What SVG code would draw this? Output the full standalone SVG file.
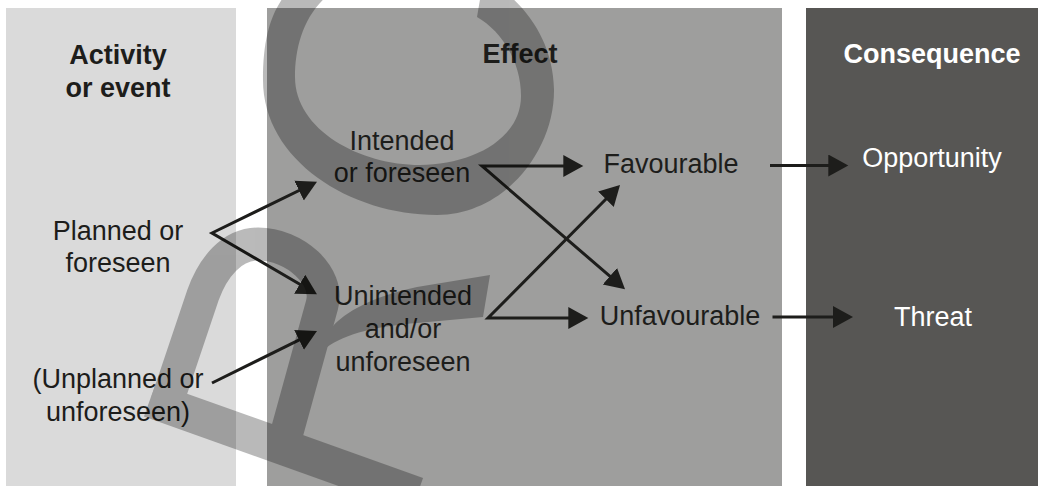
<svg xmlns="http://www.w3.org/2000/svg" width="1038" height="486" viewBox="0 0 1038 486">
  <style>
    .t { font-family: "Liberation Sans", Arial, Helvetica, sans-serif; font-size: 27px; fill: #1d1d1b; text-anchor: middle; }
    .b { font-weight: bold; }
    .w { fill: #ffffff; }
    .c { fill: none; stroke: #1d1d1b; stroke-width: 3; stroke-linejoin: miter; marker-end: url(#ah); }
    .cs { marker-start: url(#ah); }
    .wm { fill: #000; }
    .wms { fill: none; stroke: #000; stroke-linejoin: round; }
  </style>
  <defs>
    <marker id="ah" markerUnits="userSpaceOnUse" markerWidth="22" markerHeight="24" refX="16" refY="11" orient="auto-start-reverse" viewBox="0 0 22 24">
      <path d="M0,0 L20,11 L0,22 Z" fill="#1d1d1b"/>
    </marker>
  </defs>

  <g id="columns">
    <rect x="6" y="8" width="230" height="478" fill="#dadada"/>
    <rect x="267" y="8" width="515" height="478" fill="#9e9e9d"/>
    <rect x="806" y="8" width="232" height="478" fill="#575654"/>
  </g>

  <g id="head-activity"><text class="t b" x="118" y="64">Activity</text><text class="t b" x="118" y="97">or event</text></g>
  <g id="head-effect"><text class="t b" x="520" y="63">Effect</text></g>
  <g id="head-consequence"><text class="t b w" x="932" y="63">Consequence</text></g>

  <g id="planned"><text class="t" x="118" y="240">Planned or</text><text class="t" x="118" y="272">foreseen</text></g>
  <g id="unplanned"><text class="t" x="118" y="388">(Unplanned or</text><text class="t" x="118" y="421">unforeseen)</text></g>
  <g id="intended"><text class="t" x="402" y="150">Intended</text><text class="t" x="402" y="182">or foreseen</text></g>
  <g id="unintended"><text class="t" x="403" y="305">Unintended</text><text class="t" x="403" y="338">and/or</text><text class="t" x="403" y="371">unforeseen</text></g>
  <g id="favourable"><text class="t" x="671" y="173">Favourable</text></g>
  <g id="unfavourable"><text class="t" x="680" y="325">Unfavourable</text></g>
  <g id="opportunity"><text class="t w" x="932" y="167">Opportunity</text></g>
  <g id="threat"><text class="t w" x="933" y="326">Threat</text></g>

  <g id="connectors">
    <path class="c cs" d="M313.4,183.5 L212,233 L313.5,292.3"/>
    <path class="c" d="M212,383 L313.4,332.8"/>
    <path class="c cs" d="M579.3,166 L482,166 L622,286.7"/>
    <path class="c cs" d="M617.2,187.8 L488,318 L584.3,318"/>
    <path class="c" d="M770,165.5 L844.3,165.5"/>
    <path class="c" d="M772.5,317 L849,317"/>
  </g>

  <g id="watermark" opacity="0.27">
    <path class="wm" d="M477,17 L482,-12 L500,-12 C530,10 553,45 554,89 C555,150 505,215 437,215 C350,215 263,160 263,80 C263,40 270,15 285,-5 L290,-30 L335,-30 L335,-10 C305,10 295,45 295,77 C295,130 360,165 420,165 C470,165 521,140 521,96 C521,60 500,30 477,17 Z"/>
    <path class="wms" stroke-width="33" d="M167,402 L203,295 C213,267 232,244 258,244 C295,244 330,276 322,305 L287,432"/>
    <path class="wms" stroke-width="36" stroke-linejoin="miter" d="M150,399.6 L417,494.9"/>
    <path class="wm" d="M312,345 L333,326 C345,313 370,297 417,287 L490,275 L483,317 L417,323 C380,326 345,333 326,348 Z"/>
  </g>
</svg>
